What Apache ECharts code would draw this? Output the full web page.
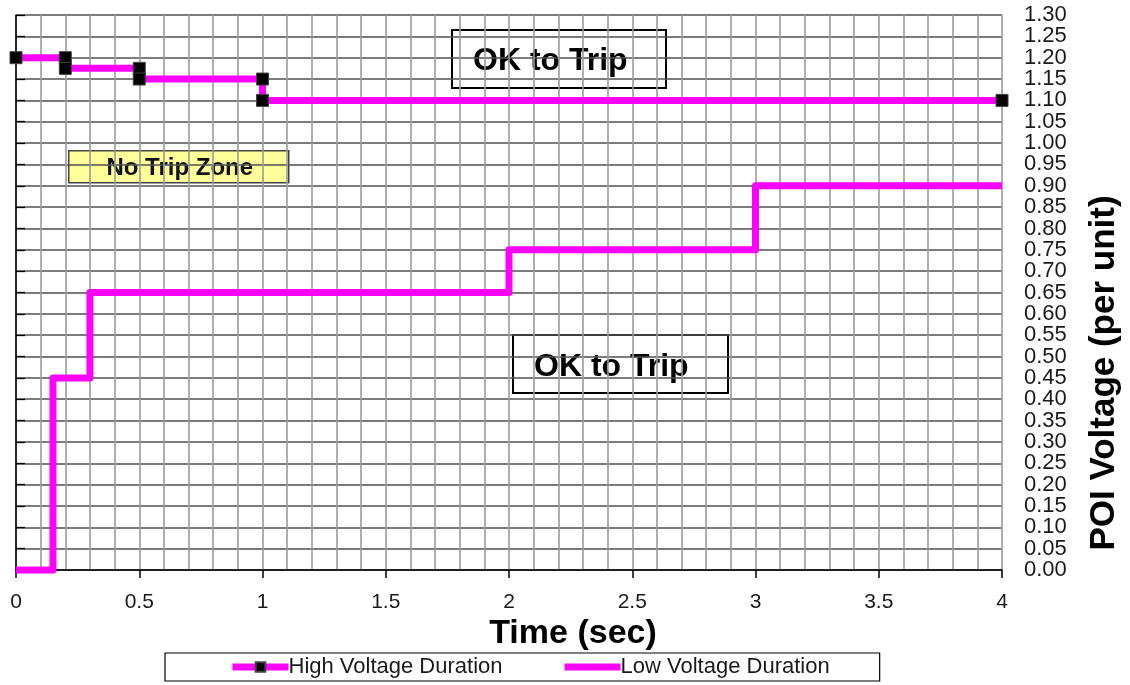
<!DOCTYPE html>
<html>
<head>
<meta charset="utf-8">
<script src="https://cdn.jsdelivr.net/npm/echarts@6/dist/echarts.min.js"></script>
<style>
html,body{margin:0;padding:0;background:#fff;}
#chart{width:1130px;height:685px;}
</style>
</head>
<body>
<div id="chart"></div>
<script>
// ---- data ----
const seriesNames = ['High Voltage Duration', 'Low Voltage Duration'];
const hvTime = [0, 0.2, 0.2, 0.5, 0.5, 1.0, 1.0, 4.0];
const hvVolt = [1.20, 1.20, 1.175, 1.175, 1.15, 1.15, 1.10, 1.10];
const lvTime = [0, 0.15, 0.15, 0.3, 0.3, 2.0, 2.0, 3.0, 3.0, 4.0];
const lvVolt = [0, 0, 0.45, 0.45, 0.65, 0.65, 0.75, 0.75, 0.90, 0.90];
const xAxisTitle = 'Time (sec)';
const yAxisTitle = 'POI Voltage (per unit)';
const zoneLabels = ['OK to Trip', 'OK to Trip', 'No Trip Zone'];

const FONT = '"Liberation Sans", Arial, sans-serif';
const MAG = '#FF00FF';
// thick bar legend icon (bounding box padded to full icon height)
const BAR_ICON = 'path://M0,0 L0.01,0 L0,0.01 Z M0,2.5 L56,2.5 L56,9.5 L0,9.5 Z M56,12 L55.99,12 L56,11.99 Z';

const isTenth = v => Math.round(v * 100) % 10 === 0;
const yLabelStyle = { color: '#1a1a1a', fontSize: 22, fontFamily: FONT, margin: 22, hideOverlap: false };

const chart = echarts.init(document.getElementById('chart'));
const option = {
  backgroundColor: '#fff',
  animation: false,
  grid: { left: 16, right: 128, top: 15, bottom: 115, containLabel: false },
  xAxis: {
    type: 'value', min: 0, max: 4, interval: 0.5,
    axisLine: { show: true, onZero: false, lineStyle: { color: '#000', width: 1.5 } },
    axisTick: { show: true, length: 8, lineStyle: { color: '#000', width: 1.5 } },
    axisLabel: { color: '#1a1a1a', fontSize: 21, fontFamily: FONT, margin: 22,
      showMinLabel: true, showMaxLabel: true },
    splitLine: { show: true, lineStyle: { color: '#9a9a9a', width: 1.6 } },
    minorTick: { show: false, splitNumber: 5 },
    minorSplitLine: { show: true, lineStyle: { color: '#9a9a9a', width: 1.6 } }
  },
  yAxis: [
    {
      type: 'value', position: 'right', min: 0, max: 1.3, interval: 0.05,
      axisLine: { show: true, lineStyle: { color: '#000', width: 1.5 } },
      axisTick: { show: true, length: 9, lineStyle: { color: '#000', width: 1.3 } },
      axisLabel: Object.assign({}, yLabelStyle, { showMinLabel: true, showMaxLabel: true,
        formatter: v => isTenth(v) ? v.toFixed(2) : '' }),
      splitLine: { show: true, lineStyle: { color: '#505050', width: 1.6 } }
    },
    {
      type: 'value', position: 'right', min: 0, max: 1.3, interval: 0.05,
      axisLine: { show: false }, axisTick: { show: false }, splitLine: { show: false },
      axisLabel: Object.assign({}, yLabelStyle, { showMinLabel: false, showMaxLabel: false,
        formatter: v => isTenth(v) ? '' : v.toFixed(2) })
    }
  ],
  legend: {
    left: 165, top: 653,
    padding: [3, 50, 3, 64],
    itemGap: 62,
    itemWidth: 56, itemHeight: 12,
    backgroundColor: '#fff',
    borderColor: '#000', borderWidth: 1.2, borderRadius: 0,
    lineStyle: { width: 7 },
    textStyle: { color: '#1a1a1a', fontSize: 22, fontFamily: FONT, padding: [0, 0, 0, -5] },
    data: [{ name: seriesNames[0] }, { name: seriesNames[1], icon: BAR_ICON }]
  },
  series: [
    {
      name: seriesNames[0], type: 'line', yAxisIndex: 0,
      data: hvTime.map((t, i) => [t, hvVolt[i]]),
      lineStyle: { color: MAG, width: 7 },
      itemStyle: { color: '#000', borderColor: '#444', borderWidth: 1 },
      symbol: 'rect', symbolSize: 12, showSymbol: true,
      clip: false, z: 3
    },
    {
      name: seriesNames[1], type: 'line', yAxisIndex: 0,
      data: lvTime.map((t, i) => [t, lvVolt[i]]),
      lineStyle: { color: MAG, width: 7, join: 'round' },
      itemStyle: { color: MAG },
      symbol: 'none', showSymbol: false,
      clip: false, z: 2
    }
  ],
  graphic: [
    { type: 'group', left: 451, top: 29, z: 10, children: [
      { type: 'rect', shape: { x: 0, y: 0, width: 214, height: 58 },
        style: { fill: '#fff', stroke: '#000', lineWidth: 2 } },
      { type: 'text', x: 21, y: 31, style: { text: zoneLabels[0], fill: '#000',
        font: 'bold 32px ' + FONT, verticalAlign: 'middle', align: 'left' } }
    ]},
    { type: 'group', left: 512, top: 334, z: 10, children: [
      { type: 'rect', shape: { x: 0, y: 0, width: 215, height: 58 },
        style: { fill: '#fff', stroke: '#000', lineWidth: 2 } },
      { type: 'text', x: 21, y: 32, style: { text: zoneLabels[1], fill: '#000',
        font: 'bold 32px ' + FONT, verticalAlign: 'middle', align: 'left' } }
    ]},
    { type: 'group', left: 68, top: 150, z: 10, children: [
      { type: 'rect', shape: { x: 0, y: 0, width: 220, height: 32 },
        style: { fill: '#FFFF99', stroke: '#444', lineWidth: 1.5 } },
      { type: 'text', x: 111, y: 18, style: { text: zoneLabels[2], fill: '#111',
        font: 'bold 24px ' + FONT, verticalAlign: 'middle', align: 'center' } }
    ]},
    { type: 'text', x: 573, y: 634, z: 10, style: { text: xAxisTitle, fill: '#000',
      font: 'bold 34px ' + FONT, align: 'center', verticalAlign: 'middle' } },
    { type: 'text', x: 1104, y: 373, rotation: Math.PI / 2, z: 10, style: { text: yAxisTitle, fill: '#000',
      font: 'bold 35px ' + FONT, align: 'center', verticalAlign: 'middle' } }
  ]
};
chart.setOption(option);
</script>
</body>
</html>
